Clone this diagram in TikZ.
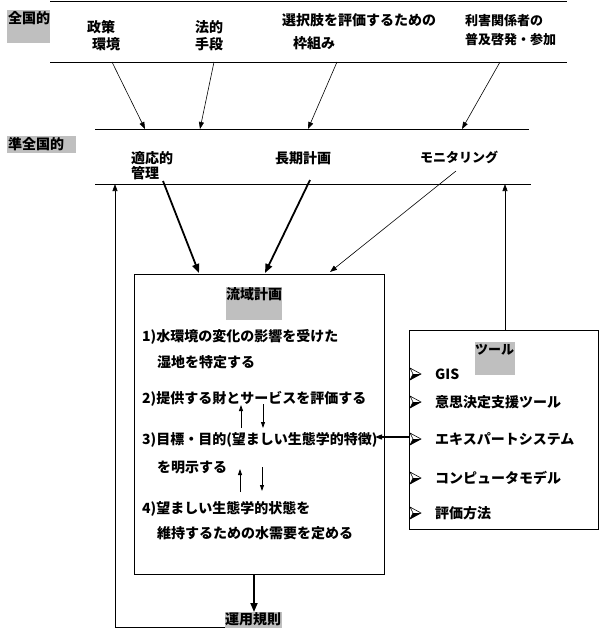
\documentclass[tikz,border=0pt]{standalone}
\usepackage{fontspec}
\setmainfont{Noto Sans CJK JP}
\usetikzlibrary{arrows.meta}
\begin{document}
\begin{tikzpicture}[x=1pt,y=-1pt,
  txt/.style={inner sep=0pt,anchor=west,font=\fontsize{14}{16}\selectfont\bfseries},
  stxt/.style={inner sep=0pt,anchor=west,font=\fontsize{13}{15}\selectfont\bfseries},
  hline/.style={line width=1pt},
  thinarr/.style={line width=0.6pt,-{Triangle[length=7pt,width=5pt]}},
  thickarr/.style={line width=1.8pt,-{Triangle[length=9pt,width=7pt]}},
  smallarr/.style={line width=0.8pt,-{Triangle[length=6pt,width=4pt]}},
  gray/.style={fill=black!25,draw=none},
  boxst/.style={draw,line width=1pt}]
\useasboundingbox (0,0) rectangle (601,638);
% horizontal lines
\draw[hline] (50,1) -- (567,1);
\draw[hline] (50,62) -- (567,62);
\draw[hline] (95,129) -- (529,129);
\draw[hline] (95,184) -- (531,184);
% level labels
\fill[gray] (7,10) rectangle (50,43);
\node[txt] (national) at (8,18) {全国的};
\fill[gray] (7,136) rectangle (76,153);
\node[txt] (subnational) at (8,144) {準全国的};
% top items
\node[txt] (seisaku) at (87,27) {政策};
\node[txt] (kankyo) at (92,44) {環境};
\node[txt] (hou) at (195,27) {法的};
\node[txt] (shudan) at (195,44) {手段};
\node[txt] (sentaku) at (282,20) {選択肢を評価するための};
\node[txt] (wakugumi) at (293,43) {枠組み};
\node[stxt] (rigai) at (465,21) {利害関係者の};
\node[stxt] (fukyu) at (465,40) {普及啓発・参加};
% arrows from level 1 to level 2
\coordinate (a1s) at (112,62); \coordinate (a1e) at (145,129);
\coordinate (a2s) at (214,62); \coordinate (a2e) at (200,129);
\coordinate (a3s) at (337,62); \coordinate (a3e) at (308,129);
\coordinate (a4s) at (500,62); \coordinate (a4e) at (462,129);
\draw[thinarr] (a1s) -- (a1e);
\draw[thinarr] (a2s) -- (a2e);
\draw[thinarr] (a3s) -- (a3e);
\draw[thinarr] (a4s) -- (a4e);
% level 2 items
\node[txt] (tekio) at (131,158) {適応的};
\node[txt] (kanri) at (131,173) {管理};
\node[txt] (choki) at (275,158) {長期計画};
\node[stxt] (monitor) at (420,157) {モニタリング};
% main box
\draw[boxst] (134,274) rectangle (384,574);
\coordinate (mb1) at (199,273);
\coordinate (mb2) at (265,273);
\coordinate (mb3) at (330,272);
\coordinate (t1) at (163,181);
\coordinate (t2) at (310,180);
\coordinate (t3) at (456,171);
\draw[thickarr] (t1) -- (mb1);
\draw[thickarr] (t2) -- (mb2);
\draw[thinarr] (t3) -- (mb3);
\fill[gray] (226,287) rectangle (282,320);
\node[txt] (ryuiki) at (226,294) {流域計画};
\node[txt] (s1a) at (142,337) {1)水環境の変化の影響を受けた};
\node[txt] (s1b) at (157,362) {湿地を特定する};
\node[txt] (s2) at (142,399) {2)提供する財とサービスを評価する};
\node[txt] (s3a) at (142,440) {3)目標・目的(望ましい生態学的特徴)};
\node[txt] (s3b) at (157,467) {を明示する};
\node[txt] (s4a) at (142,509) {4)望ましい生態学的状態を};
\node[txt] (s4b) at (157,533) {維持するための水需要を定める};
% small arrows
\coordinate (u1s) at (241,428); \coordinate (u1e) at (241,405);
\coordinate (d1s) at (263,404); \coordinate (d1e) at (263,428);
\coordinate (u2s) at (240,492); \coordinate (u2e) at (240,469);
\coordinate (d2s) at (262,467); \coordinate (d2e) at (262,491);
\draw[smallarr] (u1s) -- (u1e);
\draw[smallarr] (d1s) -- (d1e);
\draw[smallarr] (u2s) -- (u2e);
\draw[smallarr] (d2s) -- (d2e);
% operating rules
\fill[gray] (225,612) rectangle (282,628);
\node[txt] (unyo) at (225,619) {運用規則};
\coordinate (mbb) at (254,574);
\coordinate (unyotop) at (254,612);
\draw[thickarr] (mbb) -- (unyotop);
\coordinate (fbl) at (225,627);
\coordinate (fbc) at (115,627);
\coordinate (fbt) at (115,184);
\draw[thinarr] (fbl) -- (fbc) -- (fbt);
% tools box
\draw[boxst] (409,330) rectangle (598,529);
\fill[gray] (475,342) rectangle (515,375);
\node[stxt] (tool) at (475,350) {ツール};
\coordinate (tbtop) at (505,330);
\coordinate (tbt) at (505,184);
\draw[thinarr] (tbtop) -- (tbt);
\coordinate (tbl) at (409,437);
\coordinate (s3r) at (375,437);
\draw[line width=1.2pt,-{Triangle[length=7pt,width=5pt]}] (tbl) -- (s3r);
\foreach \yy/\nm/\tx in {374/gis/GIS,402/ids/意思決定支援ツール,439/exp/エキスパートシステム,478/comp/コンピュータモデル,513/eval/評価方法}{
  \draw[line width=0.6pt] (410,\yy-6) -- (421,\yy) -- (410,\yy+6) -- (413,\yy) -- cycle;
  \fill (421,\yy) -- (410,\yy+6) -- (413,\yy) -- cycle;
  \node[txt] (\nm) at (435,\yy) {\tx};
}
\end{tikzpicture}
\end{document}
